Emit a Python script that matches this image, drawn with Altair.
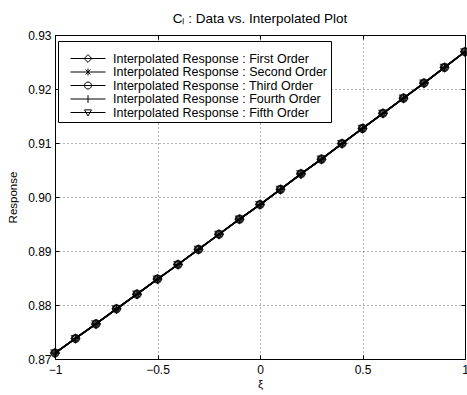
import altair as alt
import pandas as pd

# ---- data ----
xi = [-1.0, -0.9, -0.8, -0.7, -0.6, -0.5, -0.4, -0.3, -0.2, -0.1, 0.0,
      0.1, 0.2, 0.3, 0.4, 0.5, 0.6, 0.7, 0.8, 0.9, 1.0]
response = [0.8711, 0.8738, 0.8765, 0.8793, 0.8820, 0.8848, 0.8875, 0.8903,
            0.8931, 0.8959, 0.8986, 0.9014, 0.9043, 0.9070, 0.9099, 0.9127,
            0.9155, 0.9183, 0.9211, 0.9240, 0.9269]
orders = ["First Order", "Second Order", "Third Order", "Fourth Order", "Fifth Order"]
series_labels = ["Interpolated Response : " + o for o in orders]
x_ticks = [-1, -0.5, 0, 0.5, 1]
y_ticks = [0.87, 0.88, 0.89, 0.90, 0.91, 0.92, 0.93]

# ---- marker shapes (styles) ----
marker_paths = [
    "M0,-1.1L1.1,0L0,1.1L-1.1,0Z",                                   # diamond
    "M-1,0H1M0,-1V1M-0.7,-0.7L0.7,0.7M-0.7,0.7L0.7,-0.7",           # asterisk
    "M1,0A1,1,0,1,1,-1,0A1,1,0,1,1,1,0Z",                            # circle
    "M-1.1,0H1.1M0,-1.1V1.1",                                        # plus
    "M-1,-0.75L1,-0.75L0,1Z",                                        # triangle down
]
# legend samples: a line with the marker in its middle
legend_paths = [
    "M-1,0H1M0,-0.22L0.22,0L0,0.22L-0.22,0Z",
    "M-1,0H1M0,-0.2V0.2M-0.14,-0.14L0.14,0.14M-0.14,0.14L0.14,-0.14",
    "M-1,0H1M0.2,0A0.2,0.2,0,1,1,-0.2,0A0.2,0.2,0,1,1,0.2,0Z",
    "M-1,0H1M0,-0.22V0.22",
    "M-1,0H1M-0.2,-0.15L0.2,-0.15L0,0.2Z",
]

rows = []
for lab in series_labels:
    for xv, yv in zip(xi, response):
        rows.append({"series": lab, "xi": xv, "response": yv})
df = pd.DataFrame(rows)

FONT = "Liberation Sans"
xscale = alt.Scale(domain=[-1, 1], nice=False, zero=False)
yscale = alt.Scale(domain=[0.87, 0.93], nice=False, zero=False)

base = alt.Chart(df)

line = base.mark_line(color="black", strokeWidth=1.5).encode(
    x=alt.X("xi:Q", scale=xscale,
            axis=alt.Axis(orient="bottom", values=x_ticks, format="~g", title="ξ",
                          offset=-4, tickSize=4, domain=False, grid=True,
                          labelPadding=5, titlePadding=3, labelFlush=False)),
    y=alt.Y("response:Q", scale=yscale,
            axis=alt.Axis(orient="left", values=y_ticks, format=".2f", title="Response",
                          offset=-4, tickSize=4, domain=False, grid=True,
                          labelPadding=4, titlePadding=9)),
    detail="series:N",
)

points = base.mark_point(filled=False, color="black", strokeWidth=1.2, size=64).encode(
    x=alt.X("xi:Q", scale=xscale, axis=None),
    y=alt.Y("response:Q", scale=yscale, axis=None),
    shape=alt.Shape("series:N", scale=alt.Scale(domain=series_labels, range=marker_paths),
                    legend=None),
)

ghost = base.mark_point(filled=False, color="black", opacity=0, size=1).encode(
    x=alt.X("xi:Q", scale=xscale,
            axis=alt.Axis(orient="top", values=x_ticks, labels=False, title=None,
                          offset=-4, tickSize=4, domain=False, grid=False)),
    y=alt.Y("response:Q", scale=yscale,
            axis=alt.Axis(orient="right", values=y_ticks, labels=False, title=None,
                          offset=-4, tickSize=4, domain=False, grid=False)),
    shape=alt.Shape("series:N", scale=alt.Scale(domain=series_labels, range=legend_paths),
                    legend=alt.Legend(orient="none", legendX=3, legendY=6, title=" ",
                                      titleFontSize=4, titlePadding=4,
                                      fillColor="white", strokeColor="black", padding=3,
                                      symbolSize=1225, clipHeight=13,
                                      symbolOffset=9, labelOffset=7,
                                      symbolStrokeColor="black", symbolStrokeWidth=1,
                                      symbolFillColor="transparent", symbolOpacity=1,
                                      labelFontSize=12.5, labelFont=FONT, labelColor="black",
                                      labelLimit=400, rowPadding=0.5)),
)

chart = alt.layer(line, points, ghost).resolve_scale(
    shape="independent"
).resolve_axis(
    x="independent", y="independent"
).properties(
    width=410, height=324,
    autosize=alt.AutoSizeParams(type="none"),
    padding={"left": 55, "top": 35, "right": 2, "bottom": 36},
    title=alt.TitleParams("Cₗ : Data vs. Interpolated Plot", fontSize=13.5, font=FONT,
                          fontWeight="normal", color="black", anchor="middle",
                          offset=14, dy=10),
).configure_view(
    stroke="black", strokeWidth=1
).configure_axis(
    labelFont=FONT, labelFontSize=12, labelColor="black",
    titleFont=FONT, titleFontSize=11.5, titleFontWeight="normal", titleColor="black",
    tickColor="black", tickWidth=1,
    gridColor="black", gridOpacity=0.6, gridDash=[1, 3], gridWidth=1,
)

chart.save("out.html", embed_options={"renderer": "svg", "actions": False})
